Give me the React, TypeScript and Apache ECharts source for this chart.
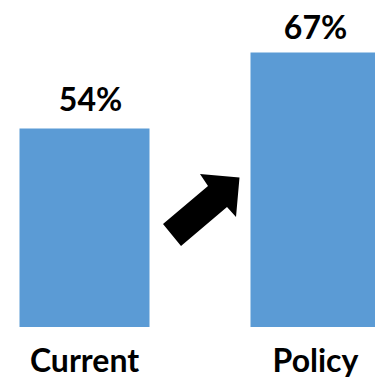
import React, { useEffect, useRef } from "react";
import * as echarts from "echarts";

const categories = ["Current", "Policy"];
const values = [54, 67];
const valueLabels = ["54%", "67%"];

export default function App() {
  const ref = useRef<HTMLDivElement>(null);
  useEffect(() => {
    if (!ref.current) return;
    const chart = echarts.init(ref.current, undefined, { renderer: "svg" });
    const dx = 31;
    const arrow = [
      [163, 224],
      [208, 186],
      [200, 174],
      [239.5, 177.5],
      [236, 217],
      [227, 207],
      [181, 246],
    ].map(([x, y]) => [x + dx, y]);
    chart.setOption({
      animation: false,
      backgroundColor: "#ffffff",
      grid: { left: 0, right: 0, top: 0, bottom: 52, containLabel: false },
      xAxis: {
        type: "category",
        data: categories,
        axisLine: { show: false },
        axisTick: { show: false },
        axisLabel: {
          margin: 18,
          lineHeight: 28,
          fontFamily: "Lato",
          fontWeight: "bold",
          fontSize: 32,
          color: "#000",
        },
      },
      yAxis: { type: "value", min: 20, max: 76, show: false, splitLine: { show: false } },
      series: [
        {
          type: "bar",
          barWidth: 130,
          data: values.map((v, i) => ({
            value: v,
            label: { offset: i === 0 ? [6, -6] : [0, -2] },
          })),
          itemStyle: { color: "#5B9BD5" },
          label: {
            show: true,
            position: "top",
            distance: 8,
            fontFamily: "Lato",
            fontWeight: "bold",
            fontSize: 32,
            color: "#000",
            formatter: (p: any) => valueLabels[p.dataIndex],
          },
        },
      ],
      graphic: [
        {
          type: "polygon",
          shape: { points: arrow },
          style: { fill: "#000" },
        },
      ],
    });
    return () => chart.dispose();
  }, []);
  return (
    <div
      ref={ref}
      style={{ position: "fixed", left: -31, top: 0, width: 462, height: 379 }}
    />
  );
}
